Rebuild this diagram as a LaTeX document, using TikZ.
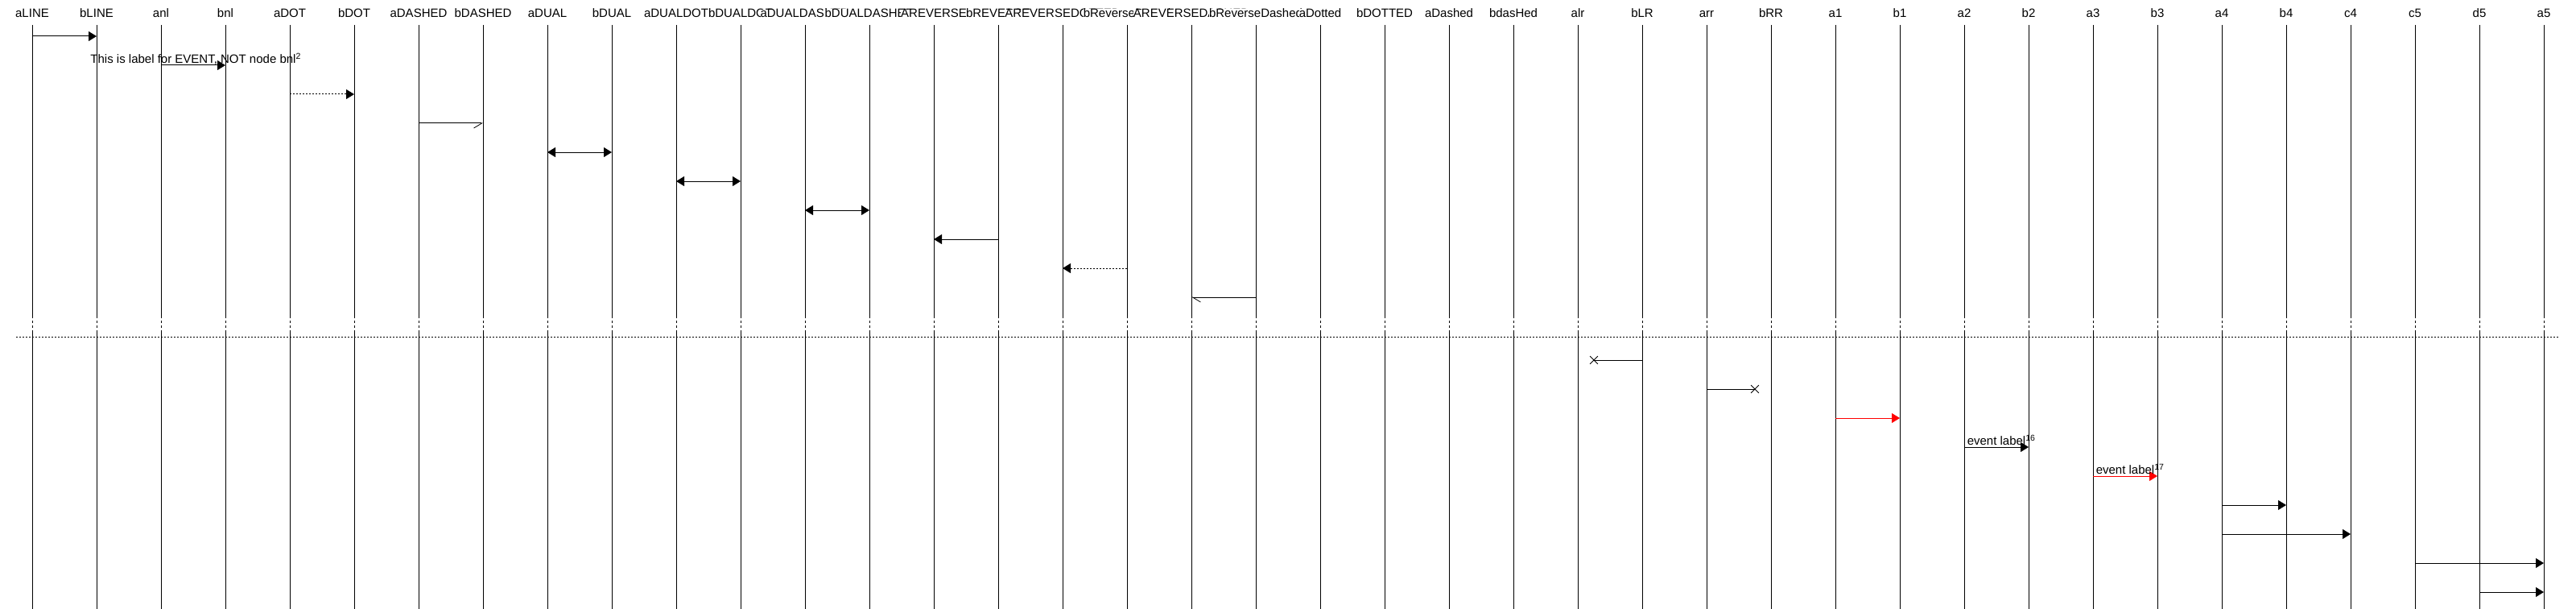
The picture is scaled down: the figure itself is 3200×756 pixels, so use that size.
\documentclass[tikz,border=0pt]{standalone}
\usepackage{fontspec}
\setmainfont{Liberation Sans}
\usetikzlibrary{arrows.meta, shapes.misc, positioning}
\definecolor{msgred}{rgb}{1,0,0}

\tikzset{
  head/.style={anchor=base, fill=white, inner sep=0pt, font=\fontsize{11.25pt}{13pt}\selectfont},
  lifeline/.style={line width=0.75pt},
  gapline/.style={line width=0.75pt, dash pattern=on 2.5pt off 2pt},
  sepline/.style={line width=0.75pt, dash pattern=on 1.5pt off 1.5pt},
  msg/.style={line width=0.75pt, -{Triangle[length=7.5pt, width=9pt]}},
  dualmsg/.style={line width=0.75pt, {Triangle[length=7.5pt, width=9pt]}-{Triangle[length=7.5pt, width=9pt]}},
  dotmsg/.style={msg, dash pattern=on 1.5pt off 1.5pt},
  halfmsg/.style={line width=0.75pt, -{Straight Barb[harpoon, swap, length=7.5pt, width=9pt, line width=0.6pt]}},
  halfmsgrev/.style={line width=0.75pt, -{Straight Barb[harpoon, length=7.5pt, width=9pt, line width=0.6pt]}},
  lostmsg/.style={line width=0.75pt},
  lost/.style={cross out, draw, line width=0.6pt, minimum size=6.75pt, inner sep=0pt},
  evlabel/.style={midway, anchor=base, yshift=2pt, inner sep=0pt, text=black, font=\fontsize{11.25pt}{13pt}\selectfont}
}

\begin{document}
\begin{tikzpicture}[x=0.75pt, y=-0.75pt]
    \useasboundingbox (0,0) rectangle (3200,756);
    \foreach \name [count=\i from 0] in {aLINE, bLINE, anl, bnl, aDOT, bDOT, aDASHED, bDASHED, aDUAL, bDUAL,
        aDUALDOT, bDUALDOT, aDUALDASHED, bDUALDASHED, AREVERSE, bREVERSE, AREVERSEDOTTED, bReverseDotted,
        AREVERSEDASHED, bReverseDashed, aDotted, bDOTTED, aDashed, bdasHed, alr, bLR, arr, bRR,
        a1, b1, a2, b2, a3, b3, a4, b4, c4, c5, d5, a5}
        \node[head] (\name) at ({40+80*\i},22) {\name};

    \coordinate (top) at (0,31);
    \coordinate (gapA) at (0,392);
    \coordinate (gapB) at (0,410);
    \coordinate (bottom) at (0,756);
    \foreach \name in {aLINE, bLINE, anl, bnl, aDOT, bDOT, aDASHED, bDASHED, aDUAL, bDUAL,
        aDUALDOT, bDUALDOT, aDUALDASHED, bDUALDASHED, AREVERSE, bREVERSE, AREVERSEDOTTED, bReverseDotted,
        AREVERSEDASHED, bReverseDashed, aDotted, bDOTTED, aDashed, bdasHed, alr, bLR, arr, bRR,
        a1, b1, a2, b2, a3, b3, a4, b4, c4, c5, d5, a5} {
        \draw[lifeline] (\name |- top) -- (\name |- gapA);
        \draw[gapline] (\name |- gapA) -- (\name |- gapB);
        \draw[lifeline] (\name |- gapB) -- (\name |- bottom);
    }

    \foreach \y [count=\r from 0] in {45, 81, 117, 153, 189, 225, 261, 297, 333, 369,
        447, 483, 519, 555, 591, 627, 663, 699, 735}
        \coordinate (row\r) at (0,\y);

    \draw[msg] (aLINE |- row0) -- (bLINE |- row0);
    \draw[msg] (anl |- row1) -- (bnl |- row1)
        node[evlabel] {This is label for EVENT, NOT node bnl\rlap{\textsuperscript{2}}};
    \draw[dotmsg] (aDOT |- row2) -- (bDOT |- row2);
    \draw[halfmsg] (aDASHED |- row3) -- (bDASHED |- row3);
    \draw[dualmsg] (aDUAL |- row4) -- (bDUAL |- row4);
    \draw[dualmsg] (aDUALDOT |- row5) -- (bDUALDOT |- row5);
    \draw[dualmsg] (aDUALDASHED |- row6) -- (bDUALDASHED |- row6);
    \draw[msg] (bREVERSE |- row7) -- (AREVERSE |- row7);
    \draw[dotmsg] (bReverseDotted |- row8) -- (AREVERSEDOTTED |- row8);
    \draw[halfmsgrev] (bReverseDashed |- row9) -- (AREVERSEDASHED |- row9);

    \coordinate (sepL) at (20,418);
    \coordinate (sepR) at (3180,418);
    \draw[sepline] (sepL) -- (sepR);

    \node[lost] (lostL) at (1980,447) {};
    \node[lost] (lostR) at (2180,483) {};
    \draw[lostmsg] (bLR |- row10) -- (lostL.center);
    \draw[lostmsg] (arr |- row11) -- (lostR.center);
    \draw[msg, msgred] (a1 |- row12) -- (b1 |- row12);
    \draw[msg] (a2 |- row13) -- (b2 |- row13)
        node[evlabel] {event label\rlap{\textsuperscript{16}}};
    \draw[msg, msgred] (a3 |- row14) -- (b3 |- row14)
        node[evlabel] {event label\rlap{\textsuperscript{17}}};
    \draw[msg] (a4 |- row15) -- (b4 |- row15);
    \draw[msg] (a4 |- row16) -- (c4 |- row16);
    \draw[msg] (c5 |- row17) -- (a5 |- row17);
    \draw[msg] (d5 |- row18) -- (a5 |- row18);
\end{tikzpicture}
\end{document}
